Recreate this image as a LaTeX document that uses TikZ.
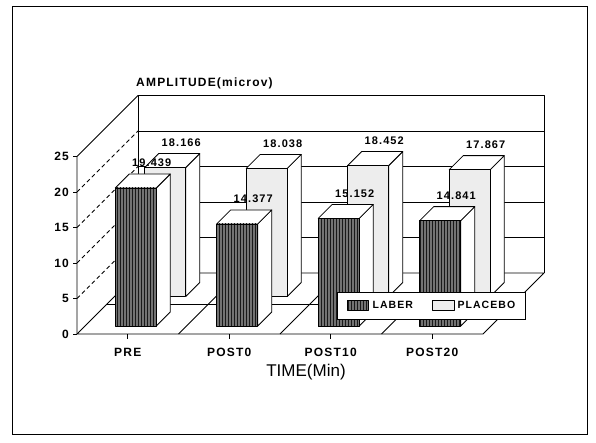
\documentclass[tikz,border=0pt]{standalone}
\usepackage{fontspec}
\setmainfont{Liberation Sans}
\newfontfamily\plotfont[LetterSpace=10.0]{Liberation Sans Bold}
\usepackage{tikz}
\usetikzlibrary{%
  positioning
 ,patterns
 ,calc
}
\tikzstyle{wall}=[line width=0.8pt,line join=round]
\tikzstyle{sideface}=[draw,fill=white,line width=0.8pt,line join=round]
\tikzstyle{laber}=[draw,line width=0.8pt,line join=round,preaction={fill=black!55},pattern=vertical lines,pattern color=black!90]
\tikzstyle{placebo}=[draw,line width=0.8pt,line join=round,fill=black!7]
\tikzstyle{num}=[inner sep=0pt,font=\plotfont\fontsize{11}{13}\selectfont]
\tikzstyle{axtxt}=[inner sep=0pt,font=\plotfont\fontsize{12}{14}\selectfont]

\begin{document}
\begin{tikzpicture}[x=1pt,y=-1pt]
  \tikzstyle{lg} = [inner sep=0pt,font=\plotfont\fontsize{10.5}{12}\selectfont]
  \useasboundingbox (0,0) rectangle (596,443);
  % the frame
  \draw[line width=1pt] (12,7) rectangle (587,434);
  % the walls
  \draw[wall] (138,273) -- (138,95.5) -- (544,95.5) -- (544,273);
  \foreach \k in {5,10,15,20}
    \draw[wall] (138,273-\k*7.1) -- (544,273-\k*7.1);
  \draw[wall] (77,334) -- (77,156.5) -- (138,95.5);
  \foreach \k in {5,10,15,20}
    \draw[wall,dash pattern=on 4pt off 3pt] (77,334-\k*7.1) -- ++(61,-61);
  % the floor
  \draw[wall] (77,334) -- (138,273) -- (544,273) -- (483,334) -- cycle;
  \foreach \i in {1,2,3}
    \draw[wall] (77+\i*101.5,334) -- ++(61,-61);
  \draw[wall] (107,304) -- (513,304);
  % the axes
  \foreach \k in {0,5,...,25}{
    \draw[wall] (73,334-\k*7.1) -- (77,334-\k*7.1);
    \node[axtxt,anchor=east] (y\k) at (69,334-\k*7.1) {\k};
  }
  \foreach \c [count=\i from 0] in {PRE,POST0,POST10,POST20}{
    \pgfmathsetmacro\cx{127.75+\i*101.5}
    \draw[wall] (\cx,334) -- (\cx,339);
    \node[axtxt] (c\i) at (\cx,352) {\c};
  }
  % the placebo bars
  \foreach \v [count=\i from 0] in {18.166,18.038,18.452,17.867}{
    \pgfmathsetmacro\xl{144.75+\i*101.5}
    \pgfmathsetmacro\yt{296.5-\v*7.1}
    \draw[sideface] (\xl+41,296.5) -- ++(14,-14) -- (\xl+55,\yt-14) -- (\xl+41,\yt) -- cycle;
    \draw[sideface] (\xl,\yt) -- ++(14,-14) -- ++(41,0) -- ++(-14,14) -- cycle;
    \draw[placebo] (\xl,296.5) rectangle (\xl+41,\yt);
    \node[num] (p\i) at (\xl+36.5,\yt-25) {\v};
  }
  % the laber bars
  \foreach \v [count=\i from 0] in {19.439,14.377,15.152,14.841}{
    \pgfmathsetmacro\xl{115.25+\i*101.5}
    \pgfmathsetmacro\yt{326-\v*7.1}
    \draw[sideface] (\xl+41,326) -- ++(14,-14) -- (\xl+55,\yt-14) -- (\xl+41,\yt) -- cycle;
    \draw[sideface] (\xl,\yt) -- ++(14,-14) -- ++(41,0) -- ++(-14,14) -- cycle;
    \draw[laber] (\xl,326) rectangle (\xl+41,\yt);
    \node[num] (l\i) at (\xl+36.5,\yt-25) {\v};
  }
  % the legend
  \node[draw,fill=white,line width=0.8pt,minimum width=188,minimum height=27,anchor=north west] (leg) at (337,292) {};
  \node[laber,minimum width=21,minimum height=10,inner sep=0pt] (swL) at (357.5,305) {};
  \node[lg,right=4pt of swL] (lL) {LABER};
  \node[placebo,minimum width=22,minimum height=10,inner sep=0pt] (swP) at (443,305) {};
  \node[lg,right=3pt of swP] (lP) {PLACEBO};
  % the titles
  \node[axtxt,anchor=west] (yt) at (136,83) {AMPLITUDE(microv)};
  \node[inner sep=0pt,font=\fontsize{17}{19}\selectfont] (xt) at (306,372) {TIME(Min)};
\end{tikzpicture}
\end{document}
